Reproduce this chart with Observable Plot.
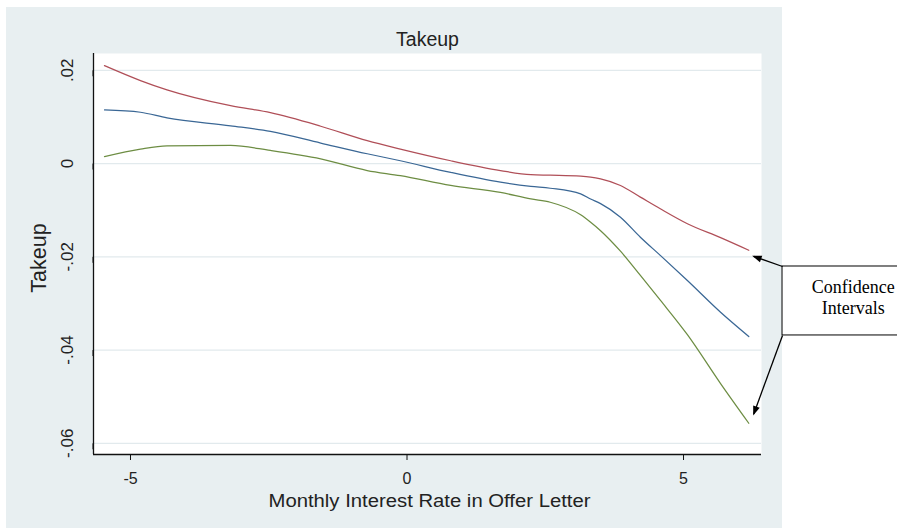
<!DOCTYPE html>
<html>
<head>
<meta charset="utf-8">
<script src="https://cdn.jsdelivr.net/npm/d3@7"></script>
<script src="https://cdn.jsdelivr.net/npm/@observablehq/plot@0.6"></script>
<style>
  html, body { margin: 0; padding: 0; background: #ffffff; }
  #wrap { position: relative; width: 897px; height: 529px; overflow: hidden; }
  #bg { position: absolute; left: 6px; top: 7px; width: 776px; height: 521px; background: #e8eff1; }
  #chart { position: absolute; left: 0; top: 0; }
</style>
</head>
<body>
<div id="wrap"><div id="bg"></div><div id="chart"></div></div>
<script>
// Monthly interest rate in offer letter (x) and takeup curves
const rate = [-5.47, -4.82, -4.34, -3.19, -2.47, -1.56, -0.72, -0.12, 0.79, 1.69, 2.24, 2.59, 3.14, 3.32, 3.50, 3.86, 4.22, 4.58, 5.07, 5.67, 6.18];
const upperCI = [0.0210, 0.0178, 0.0158, 0.0124, 0.0109, 0.0080, 0.0049, 0.0031, 0.0006, -0.0015, -0.0024, -0.0025, -0.0027, -0.0029, -0.0033, -0.0047, -0.0072, -0.0097, -0.0129, -0.0159, -0.0186];
const estimate = [0.0115, 0.0110, 0.0098, 0.0081, 0.0069, 0.0044, 0.0021, 0.0006, -0.0019, -0.0040, -0.0049, -0.0053, -0.0065, -0.0076, -0.0086, -0.0115, -0.0158, -0.0197, -0.0251, -0.0319, -0.0371];
const lowerCI = [0.0015, 0.0031, 0.0038, 0.0039, 0.0028, 0.0010, -0.0015, -0.0026, -0.0047, -0.0062, -0.0076, -0.0083, -0.0110, -0.0126, -0.0144, -0.0188, -0.0240, -0.0293, -0.0367, -0.0472, -0.0557];

const xTicks = [-5, 0, 5];
const xTickLabels = ["-5", "0", "5"];
const yTicks = [0.02, 0, -0.02, -0.04, -0.06];
const yTickLabels = [".02", "0", "-.02", "-.04", "-.06"];

const titleText = "Takeup";
const xTitle = "Monthly Interest Rate in Offer Letter";
const yTitle = "Takeup";
const noteText = "Confidence\nIntervals";

// annotation (data units): box and arrows pointing to the CI ends
const noteBox = [{x1: 6.79, x2: 9.5, y1: -0.02208, y2: -0.03687}];
const noteLabel = [{x: 8.07, y: -0.02862, text: noteText}];
const noteArrows = [
  {x1: 6.79, y1: -0.02208, x2: 6.27, y2: -0.0199},
  {x1: 6.79, y1: -0.03687, x2: 6.27, y2: -0.0537}
];

const series = [
  {name: "upper", values: upperCI, color: "#b04f58"},
  {name: "estimate", values: estimate, color: "#3a6795"},
  {name: "lower", values: lowerCI, color: "#6d8d43"}
];
const rows = series.flatMap(s => s.values.map((v, i) => ({x: rate[i], y: v, name: s.name})));

const chart = Plot.plot({
  width: 897,
  height: 529,
  marginLeft: 93,
  marginRight: 136,
  marginTop: 53,
  marginBottom: 75,
  style: {fontFamily: "'Liberation Sans', Arial, sans-serif", fontSize: "15px", background: "transparent", color: "#222", overflow: "visible"},
  x: {domain: [-5.669, 6.41]},
  y: {domain: [-0.0624, 0.0236]},
  color: {domain: series.map(s => s.name), range: series.map(s => s.color)},
  marks: [
    Plot.frame({fill: "white", stroke: null}),
    Plot.gridY(yTicks, {stroke: "#e2eaed", strokeOpacity: 1, strokeWidth: 1.2}),
    Plot.line(rows, {x: "x", y: "y", z: "name", stroke: "name", strokeWidth: 1.25, curve: "monotone-x"}),
    Plot.ruleX([-5.669], {stroke: "#111", strokeWidth: 1.3}),
    Plot.ruleY([-0.0624], {stroke: "#111", strokeWidth: 1.3}),
    Plot.axisX({ticks: xTicks, tickFormat: d => xTickLabels[xTicks.indexOf(d)], tickSize: 6, tickPadding: 12, fontSize: 16, label: null, stroke: "#111"}),
    Plot.axisY({ticks: yTicks, tickFormat: d => yTickLabels[yTicks.indexOf(d)], tickSize: 6, tickPadding: 20, fontSize: 17, rotate: -90, textAnchor: "middle", lineAnchor: "middle", label: null, stroke: "#111"}),
    Plot.text([titleText], {frameAnchor: "top", dy: -14, fontSize: 19.5, textAnchor: "middle", lineAnchor: "middle"}),
    Plot.text([xTitle], {frameAnchor: "bottom", dy: 47, dx: 2, fontSize: 17.5, textAnchor: "middle", lineAnchor: "middle"}),
    Plot.text([yTitle], {frameAnchor: "left", dx: -54, dy: 4, fontSize: 21.5, rotate: -90, textAnchor: "middle", lineAnchor: "middle"}),
    Plot.rect(noteBox, {x1: "x1", x2: "x2", y1: "y1", y2: "y2", fill: "white", stroke: "black", strokeWidth: 1, clip: false}),
    Plot.text(noteLabel, {x: "x", y: "y", text: "text", fontFamily: "'Liberation Serif', 'Times New Roman', serif", fontSize: 18, lineHeight: 1.17, fill: "black", lineAnchor: "middle"}),
    Plot.link(noteArrows, {x1: "x1", y1: "y1", x2: "x2", y2: "y2", stroke: "black", strokeWidth: 1.3, markerEnd: "arrow"})
  ]
});

// the reference's axis title is drawn horizontally stretched
chart.querySelectorAll("text").forEach(t => {
  if (t.textContent === xTitle) {
    t.setAttribute("textLength", "322");
    t.setAttribute("lengthAdjust", "spacingAndGlyphs");
  }
});

chart.querySelectorAll("marker").forEach(m => {
  m.setAttribute("overflow", "visible");
  m.querySelectorAll("path").forEach(p => {
    p.setAttribute("d", "M-9,-4L2,0L-9,4Z");
    p.setAttribute("fill", "black");
    p.setAttribute("stroke", "none");
  });
});

document.getElementById("chart").appendChild(chart);
</script>
</body>
</html>
